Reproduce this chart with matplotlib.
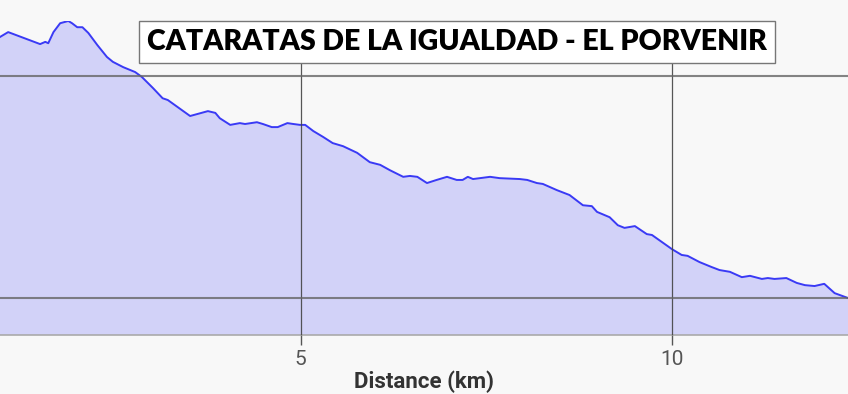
import matplotlib
matplotlib.use("Agg")
import matplotlib.pyplot as plt

# Distance (km) and elevation (m) read from the profile
distance_km = [0.95, 1.06, 1.49, 1.56, 1.60, 1.67, 1.76, 1.87, 1.92, 1.99, 2.06, 2.14,
               2.26, 2.39, 2.47, 2.61, 2.77, 2.86, 3.01, 3.14, 3.21, 3.51, 3.75, 3.85,
               3.91, 4.05, 4.18, 4.25, 4.41, 4.49, 4.61, 4.69, 4.82, 4.90, 4.99, 5.06,
               5.17, 5.30, 5.43, 5.57, 5.76, 5.93, 6.07, 6.20, 6.38, 6.47, 6.57, 6.70,
               6.83, 6.97, 7.10, 7.18, 7.25, 7.32, 7.55, 7.68, 7.95, 8.05, 8.18, 8.26,
               8.45, 8.62, 8.80, 8.92, 8.99, 9.16, 9.27, 9.36, 9.50, 9.66, 9.73, 10.00,
               10.13, 10.21, 10.37, 10.53, 10.64, 10.78, 10.94, 11.05, 11.21, 11.29,
               11.38, 11.54, 11.68, 11.79, 11.92, 12.05, 12.19, 12.37]
elevation_m = [1088, 1099, 1072, 1077, 1074, 1099, 1119, 1124, 1119, 1110, 1110, 1097,
               1070, 1043, 1032, 1020, 1009, 998, 973, 950, 946, 910, 921, 917,
               905, 890, 894, 892, 896, 892, 885, 885, 894, 892, 890, 890,
               876, 863, 849, 842, 827, 806, 800, 788, 773, 775, 773, 759,
               766, 773, 766, 766, 773, 768, 773, 770, 768, 766, 759, 757,
               743, 732, 709, 707, 694, 682, 664, 658, 662, 644, 642, 610,
               597, 595, 581, 570, 563, 559, 547, 550, 543, 545,
               543, 545, 534, 529, 527, 532, 511, 500]

x_ticks = [5, 10]
x_tick_labels = ["5", "10"]
y_grid = [500, 1000]
title = "CATARATAS DE LA IGUALDAD - EL PORVENIR"
x_label = "Distance (km)"

bg = "#f8f8f8"
fig = plt.figure(figsize=(8.48, 3.94), dpi=100, facecolor=bg)
ax = fig.add_axes([0.0, 1 - 335 / 394, 1.0, (335 - 21) / 394])
ax.set_facecolor(bg)

ax.fill_between(distance_km, elevation_m, 0, color="#d2d2f8", lw=0, zorder=1)
ax.plot(distance_km, elevation_m, color="#3a3af5", lw=1.4, zorder=2)

ax.set_xlim(0.95, 12.37)
ax.set_ylim(416.7, 1124)

ax.set_xticks(x_ticks)
ax.set_xticklabels(x_tick_labels, family="Roboto", fontsize=15, color="#555555")
ax.set_yticks(y_grid)
ax.set_yticklabels([])
ax.tick_params(axis="y", length=0)
ax.tick_params(axis="x", length=7, width=1, color="#555555", pad=4)

ax.set_axisbelow(False)
ax.grid(axis="y", color="#666666", lw=1.5, alpha=0.8)
ax.grid(axis="x", color="#444444", lw=0.9, alpha=0.9)

for s in ["top", "left", "right"]:
    ax.spines[s].set_visible(False)
ax.spines["bottom"].set_color("#aaaaaa")
ax.spines["bottom"].set_linewidth(1.2)

ax.set_xlabel(x_label, family="Roboto", fontsize=16, fontweight="bold", color="#333333", labelpad=1)

fig.text(457 / 848, 1 - 42 / 394, title, family="Lato", fontsize=20.5, fontweight="heavy",
         color="black", ha="center", va="center", zorder=10,
         bbox=dict(boxstyle="square,pad=0.27", facecolor="white", edgecolor="#777777", lw=1.0))

fig.savefig("out.png", dpi=100, facecolor=bg)
